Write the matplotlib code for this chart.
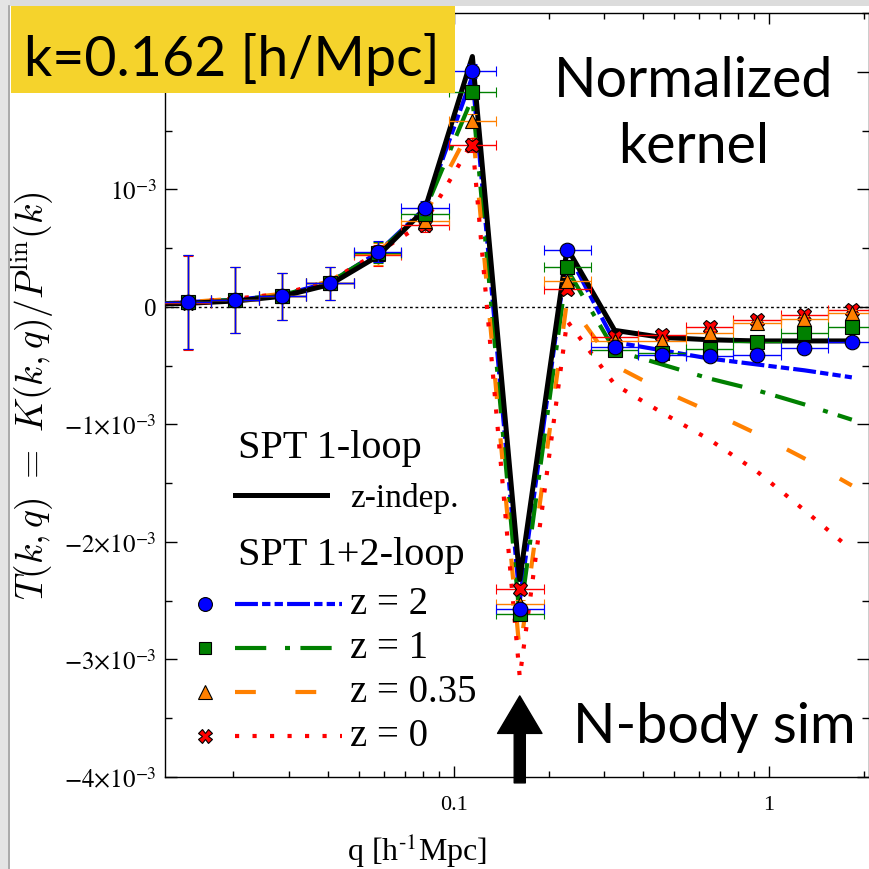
import matplotlib
matplotlib.use('Agg')
import matplotlib.pyplot as plt
import numpy as np
from matplotlib.patches import Rectangle, FancyArrowPatch
from matplotlib.ticker import FixedLocator, MultipleLocator, LogLocator, NullFormatter

plt.rcParams['font.family'] = ['Liberation Serif', 'DejaVu Serif']
plt.rcParams['mathtext.fontset'] = 'stix'

# N-body bins in q [h/Mpc] and their edges
q_nbody = [0.0143, 0.0203, 0.0286, 0.0405, 0.0573, 0.0810, 0.1146, 0.162,
           0.229, 0.324, 0.458, 0.648, 0.916, 1.296, 1.833]
q_edges = [0.0120, 0.0170, 0.0241, 0.0341, 0.0482, 0.0681, 0.0963, 0.136,
           0.193, 0.272, 0.385, 0.545, 0.771, 1.09, 1.54, 2.18]

# N-body kernel, units of 1e-3
nb_z2 = [0.04, 0.06, 0.09, 0.20, 0.47, 0.84, 2.01, -2.57, 0.48, -0.34, -0.41, -0.42, -0.41, -0.35, -0.30]
nb_z1 = [0.04, 0.06, 0.09, 0.20, 0.46, 0.79, 1.83, -2.61, 0.34, -0.37, -0.39, -0.36, -0.30, -0.22, -0.17]
nb_z035 = [0.04, 0.06, 0.09, 0.20, 0.45, 0.73, 1.58, -2.53, 0.22, -0.29, -0.29, -0.22, -0.14, -0.10, -0.05]
nb_z0 = [0.03, 0.06, 0.09, 0.20, 0.44, 0.70, 1.38, -2.40, 0.15, -0.26, -0.24, -0.17, -0.11, -0.07, -0.03]
nb_err = [0.40, 0.28, 0.20, 0.14, 0.09, 0.06, 0.06, 0.04, 0.03, 0.02, 0.02, 0.02, 0.02, 0.02, 0.02]

# SPT predictions, units of 1e-3
q_theory = [0.0101, 0.0143, 0.0203, 0.0286, 0.0405, 0.0573, 0.0810, 0.1146, 0.162,
            0.229, 0.324, 0.458, 0.648, 0.916, 1.296, 1.833]
spt_1loop = [0.02, 0.03, 0.05, 0.09, 0.19, 0.43, 0.83, 2.13, -2.32, 0.50, -0.20, -0.26, -0.28, -0.29, -0.29, -0.29]
spt2_z2 = [0.02, 0.04, 0.06, 0.10, 0.21, 0.46, 0.84, 1.96, -2.50, 0.47, -0.30, -0.37, -0.44, -0.49, -0.54, -0.60]
spt2_z1 = [0.02, 0.04, 0.06, 0.10, 0.21, 0.46, 0.82, 1.78, -2.65, 0.32, -0.37, -0.49, -0.61, -0.71, -0.83, -0.96]
spt2_z035 = [0.02, 0.04, 0.07, 0.11, 0.22, 0.47, 0.78, 1.55, -2.95, 0.06, -0.50, -0.71, -0.89, -1.08, -1.29, -1.52]
spt2_z0 = [0.02, 0.04, 0.07, 0.11, 0.22, 0.46, 0.72, 1.40, -3.15, -0.12, -0.66, -0.90, -1.13, -1.40, -1.73, -2.07]

z_labels = ['z = 2', 'z = 1', 'z = 0.35', 'z = 0']
colors = ['#0000ff', '#008000', '#ff8000', '#ff0000']
markers = ['o', 's', '^', 'X']
msizes = [10.5, 9.5, 10.5, 10.5]
dashes = [(5.5, 1.0, 2.0, 1.0, 2.0, 1.0), (7.5, 4.5, 1.2, 2.5), (5, 9.5), (1, 3.2)]

nbody = [nb_z2, nb_z1, nb_z035, nb_z0]
spt2 = [spt2_z2, spt2_z1, spt2_z035, spt2_z0]

q = np.array(q_nbody)
edges = np.array(q_edges)
xerr = [q - edges[:-1], edges[1:] - q]
yerr = np.array(nb_err) * 1e-3

fig = plt.figure(figsize=(8.7, 8.7), dpi=100)
ax = fig.add_axes([165 / 870, 92 / 870, 704 / 870, 764 / 870])

ax.axhline(0, color='k', lw=1.0, ls=(0, (2, 2)), zorder=1)

for vals, c, d in zip(spt2, colors, dashes):
    ax.plot(q_theory, np.array(vals) * 1e-3, color=c, lw=3.0, dashes=d, zorder=2)
ax.plot(q_theory, np.array(spt_1loop) * 1e-3, color='k', lw=3.6, zorder=3)

# draw z=0 first so z=2 markers end on top
for i in [3, 2, 1, 0]:
    ax.errorbar(q, np.array(nbody[i]) * 1e-3, xerr=xerr, yerr=yerr, fmt=markers[i],
                color=colors[i], mfc=colors[i], mec='k', mew=0.8, ms=msizes[i],
                ecolor=colors[i], elinewidth=1.0, capsize=3.5, capthick=1.0, zorder=4 + (3 - i))

ax.set_xscale('log')
ax.set_xlim(0.01213, 2.078)
ax.set_ylim(-4e-3, 2.5e-3)

yt = [-4e-3, -3e-3, -2e-3, -1e-3, 0, 1e-3, 2e-3]
ytl = [r'$-4{\times}10^{-3}$', r'$-3{\times}10^{-3}$', r'$-2{\times}10^{-3}$',
       r'$-1{\times}10^{-3}$', '0', r'$10^{-3}$', '']
ax.yaxis.set_major_locator(FixedLocator(yt))
ax.set_yticklabels(ytl)
ax.yaxis.set_minor_locator(MultipleLocator(0.5e-3))
ax.xaxis.set_major_locator(FixedLocator([0.1, 1]))
ax.set_xticklabels(['0.1', '1'])
ax.xaxis.set_minor_locator(LogLocator(base=10, subs=np.arange(2, 10)))
ax.xaxis.set_minor_formatter(NullFormatter())

ax.tick_params(which='both', direction='in', top=True, right=True, width=1.0)
ax.tick_params(axis='y', which='major', length=8.5, labelsize=18, pad=6)
ax.tick_params(axis='y', which='minor', length=5)
ax.tick_params(axis='x', which='major', length=8, labelsize=16, pad=13)
ax.tick_params(axis='x', which='minor', length=4)
for s in ax.spines.values():
    s.set_linewidth(1.0)

ax.set_xlabel('q [h$^{\\rm \u2010 1}$Mpc]', fontsize=23)
ax.xaxis.set_label_coords((417 - 165) / 704, -0.07)
ax.set_ylabel(r'$T(k,q)\ =\ K(k,q)/P^{\rm lin}(k)$', fontsize=27, math_fontfamily='cm')
ax.yaxis.set_label_coords(-(165 - 56) / 704, 0.5)

# N-body arrow at q = k
arr = FancyArrowPatch((0.162, -4.05e-3), (0.162, -3.31e-3),
                      arrowstyle='simple,head_length=27,head_width=32,tail_width=8',
                      mutation_scale=1, color='k', shrinkA=0, shrinkB=0, clip_on=False, zorder=8)
ax.add_patch(arr)

# overlay in pixel coordinates for annotations and legend
ov = fig.add_axes([0, 0, 1, 1])
ov.set_xlim(0, 870)
ov.set_ylim(870, 0)
ov.axis('off')

# window frame remnants
ov.add_patch(Rectangle((0, 0), 870, 7, color='#dcdcdc', lw=0))
ov.add_patch(Rectangle((0, 0), 10, 870, color='#e4e4e4', lw=0))
ov.plot([9.5, 9.5], [7, 870], color='#a0a0a0', lw=1.2)

ov.add_patch(Rectangle((11, 7), 444, 87, color='#f5d32c', lw=0, zorder=5))
ov.text(24, 76, 'k=0.162 [h/Mpc]', fontsize=40, family='Lato', va='baseline', zorder=6)

ov.text(694, 97, 'Normalized', fontsize=40, family='Lato', ha='center', va='baseline')
ov.text(694, 163, 'kernel', fontsize=40, family='Lato', ha='center', va='baseline')
ov.text(573, 743, 'N-body sim', fontsize=40, family='Lato', ha='left', va='baseline')

# legend
ov.text(238, 458, 'SPT 1-loop', fontsize=29, va='baseline')
ov.plot([235, 327], [496, 496], color='k', lw=3.6)
ov.text(350, 507, 'z-indep.', fontsize=24, va='baseline')
ov.text(238, 565, 'SPT 1+2-loop', fontsize=29, va='baseline')
rows = [605, 649, 693, 737]
for y, lab, c, m, ms, d in zip(rows, z_labels, colors, markers, msizes, dashes):
    ov.plot([205], [y], marker=m, ms=ms * 0.95, color=c, mec='k', mew=0.8, ls='none')
    ov.plot([235, 342], [y, y], color=c, lw=3.0, dashes=d)
    ov.text(350, y + 9, lab, fontsize=28, va='baseline')

fig.savefig('out.png', dpi=100)
